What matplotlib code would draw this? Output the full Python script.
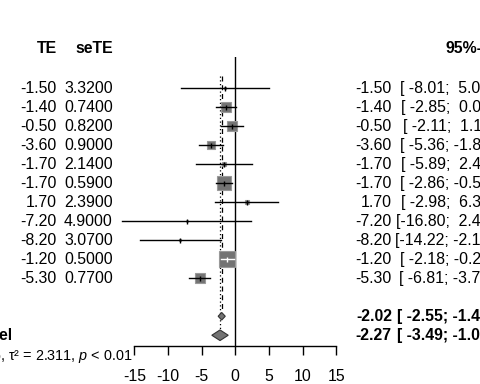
import numpy as np
import matplotlib
matplotlib.use("Agg")
import matplotlib.pyplot as plt
import matplotlib.transforms as transforms
from matplotlib.patches import Polygon

plt.rcParams['font.family'] = ['Liberation Sans', 'DejaVu Sans']
plt.rcParams['mathtext.fontset'] = 'custom'
plt.rcParams['mathtext.rm'] = 'Liberation Sans'
plt.rcParams['mathtext.it'] = 'Liberation Sans:italic'
plt.rcParams['axes.unicode_minus'] = False

# study data
te = [-1.50, -1.40, -0.50, -3.60, -1.70, -1.70, 1.70, -7.20, -8.20, -1.20, -5.30]
se = [3.32, 0.74, 0.82, 0.90, 2.14, 0.59, 2.39, 4.90, 3.07, 0.50, 0.77]

# pooled estimates (fixed, random)
pool_labels = ["Fixed effect model", "Random effects model"]
pool_est = [-2.02, -2.27]
pool_lo = [-2.55, -3.49]
pool_hi = [-1.49, -1.05]
het_text = "Heterogeneity: I² = 72%, τ² = 2.311, $p$ < 0.01"

xticks = [-15, -10, -5, 0, 5, 10, 15]

te = np.array(te)
se = np.array(se)
lo = te - 1.96 * se
hi = te + 1.96 * se
w = 1 / se ** 2

W, H = 480, 384
fs = 11.4
fig = plt.figure(figsize=(W / 100, H / 100), dpi=100)
ax_left, ax_right = 134.3, 336.3
ax_top, ax_bot = 56.7, 345.7
ax = fig.add_axes([ax_left / W, 1 - ax_bot / H, (ax_right - ax_left) / W, (ax_bot - ax_top) / H])
ax.set_xlim(-15, 15)
ax.set_ylim(13.55, -1.66)
ax.patch.set_visible(False)
for s in ['top', 'right', 'left']:
    ax.spines[s].set_visible(False)
ax.spines['bottom'].set_linewidth(1)
ax.set_yticks([])
ax.set_xticks(xticks)
ax.set_xticklabels([str(t) for t in xticks], fontsize=fs)
ax.tick_params(axis='x', length=6.5, width=1, pad=10)

px_per_unit = (ax_right - ax_left) / 30

# reference line at 0
ax.plot([0, 0], [-1.66, 13.55], color='black', lw=1, zorder=2)
# pooled lines
ax.plot([pool_est[0]] * 2, [-0.62, 12 - 0.2], color='black', lw=0.9, ls=(0, (4, 3)), zorder=2)
ax.plot([pool_est[1]] * 2, [-0.62, 13 - 0.28], color='black', lw=0.9, ls=(0, (1, 2)), zorder=2)

# study squares and CIs
max_side = 16  # px
for i in range(len(te)):
    side = max_side * np.sqrt(w[i] / w.max())
    ax.plot(te[i], i, marker='s', ms=side * 0.72, mfc='#737373', mec='#999999',
            mew=0.8, ls='none', zorder=3, clip_on=False)
    half = side / 2 / px_per_unit
    col = 'white' if (lo[i] >= te[i] - half and hi[i] <= te[i] + half) else 'black'
    ax.plot([lo[i], hi[i]], [i, i], color=col, lw=1, zorder=4, clip_on=False)
    ax.plot(te[i], i, marker='|', ms=3.6, mew=1, color=col, zorder=5, clip_on=False)

# diamonds
rows_pool = [12, 13]
halfh = [0.2, 0.28]
for k in range(2):
    r = rows_pool[k]
    d = Polygon([(pool_lo[k], r), (pool_est[k], r - halfh[k]), (pool_hi[k], r),
                 (pool_est[k], r + halfh[k])], closed=True, fc='#737373', ec='#333333',
                lw=0.8, zorder=4)
    ax.add_patch(d)

# text columns
tr = transforms.blended_transform_factory(fig.transFigure, ax.transData)

def put(xpx, y, s, size=fs, **kw):
    ax.text(xpx / W, y, s, transform=tr, fontsize=size, va='center', **kw)

put(56.7, -2.1, "TE", ha='right', fontweight='bold')
put(112.7, -2.1, "seTE", ha='right', fontweight='bold')
put(498, -2.1, "95%-CI", ha='right', fontweight='bold')

lo_s = ["%.2f" % v for v in lo]
hi_s = ["%.2f" % v for v in hi]
wl = max(len(s) for s in lo_s)
wh = max(len(s) for s in hi_s)
for i in range(len(te)):
    put(56.7, i, "%.2f" % te[i], ha='right')
    put(112.7, i, "%.4f" % se[i], ha='right')
    put(392, i, "%.2f" % te[i], ha='right')
    put(494, i, "[" + lo_s[i].rjust(wl) + "; " + hi_s[i].rjust(wh) + "]", ha='right')

for k in range(2):
    r = rows_pool[k]
    put(-157.5, r, pool_labels[k], ha='left', fontweight='bold')
    put(392, r, "%.2f" % pool_est[k], ha='right', fontweight='bold')
    put(494, r, "[" + ("%.2f" % pool_lo[k]).rjust(wl) + "; " + ("%.2f" % pool_hi[k]).rjust(wh) + "]",
        ha='right', fontweight='bold')

put(133, 14.1, het_text, size=10.4, ha='right')

fig.savefig("out.png", dpi=100)
